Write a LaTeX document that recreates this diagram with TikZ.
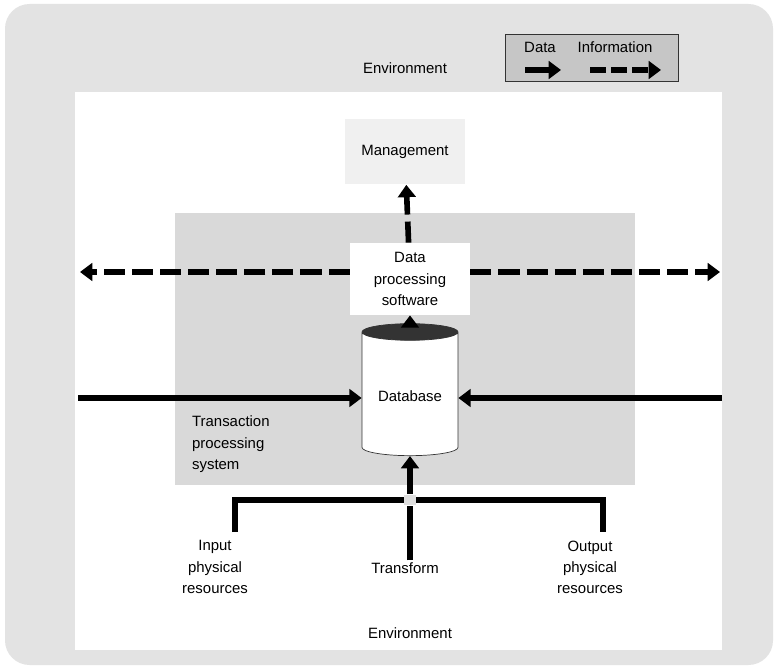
\documentclass[tikz,border=0pt]{standalone}
\usepackage{fontspec}
\setmainfont{Liberation Sans}
\usepackage{tikz}
\usetikzlibrary{positioning, calc, arrows.meta, shapes.geometric}
\tikzset{
    block/.style = {rectangle, align=center, minimum height=1.3cm, minimum width=2.4cm},
    plain/.style = {align=center, inner sep=1pt},
}

\begin{document}
\begin{tikzpicture}[
        x=1cm, y=1cm,
        font=\fontsize{8.5}{12}\selectfont,
        dataline/.style={
            line width=3.2pt,
            black
        },
        dataarrow/.style={
            dataline,
            -{Triangle[length=7pt,width=10pt]}
        },
        infoarrow/.style={
            line width=3.2pt,
            dash pattern=on 12pt off 4pt,
            -{Triangle[length=7pt,width=10pt]}
        },
        database/.style={
            cylinder,
            shape border rotate=90,
            aspect=0.22,
            draw=black!80,
            thin,
            cylinder uses custom fill,
            cylinder body fill=white,
            cylinder end fill=black!80,
            minimum width=1.92cm,
            minimum height=2.64cm
        }
    ]
        % frame and environment
        \useasboundingbox (0,0) rectangle (15.56,13.36);
        \fill[white] (0,0) rectangle (15.56,13.36);
        \fill[gray!22, rounded corners=14pt] (0.1,0.06) rectangle (15.46,13.28);
        \fill[white] (1.5,0.36) rectangle (14.44,11.52);
        \fill[gray!30] (3.5,3.66) rectangle (12.7,9.1);

        \node [plain] (envtop) at (8.1,12.0) {Environment};
        \node [plain] (envbot) at (8.2,0.7) {Environment};

        % legend
        \node [rectangle, draw=black!80, fill=gray!45, minimum width=3.46cm, minimum height=0.94cm] (legend) at (11.83,12.2) {};
        \node [plain] (lgdata) at (10.8,12.42) {Data};
        \node [plain] (lginfo) at (12.3,12.42) {Information};
        \coordinate (lgd1) at (10.5,11.96);
        \coordinate (lgd2) at (11.22,11.96);
        \coordinate (lgi1) at (11.8,11.96);
        \coordinate (lgi2) at (13.22,11.96);
        \draw [dataarrow] (lgd1) -- (lgd2);
        \draw [infoarrow, dash pattern=on 9pt off 3pt] (lgi1) -- (lgi2);

        % main blocks
        \node [block, fill=gray!12] (mgmt) at (8.1,10.32) {Management};
        \node [block, fill=white, minimum height=1.44cm] (dps) at (8.2,7.78) {Data\\processing\\software};
        \node [database] (db) at (8.2,5.44) {Database};
        \node [plain, align=left, anchor=north west] (tps) at (3.8,5.08) {Transaction\\processing\\system};

        \node [plain] (input) at (4.3,2.02) {Input\\physical\\resources};
        \node [plain] (transform) at (8.1,2.0) {Transform};
        \node [plain] (output) at (11.8,2.02) {Output\\physical\\resources};

        % information flows
        \coordinate (infoleft) at (1.6,7.92);
        \coordinate (inforight) at (14.4,7.92);
        \draw [infoarrow] (dps.west |- infoleft) -- (infoleft);
        \draw [infoarrow] (dps.east |- inforight) -- (inforight);
        \draw [infoarrow] (dps) -- (mgmt);

        % data flows
        \coordinate (dataleft) at (1.56,5.4);
        \coordinate (dataright) at (14.44,5.4);
        \draw [dataarrow] (dataleft) -- (db.west |- dataleft);
        \draw [dataarrow] (dataright) -- (db.east |- dataright);
        \draw [dataarrow] (db.top) -- (dps);

        \coordinate (inptop) at (4.7,2.72);
        \coordinate (outtop) at (12.06,2.72);
        \coordinate (bar) at (8.2,3.36);
        \draw [dataline] (inptop) |- (outtop |- bar) -- (outtop);
        \fill [gray!25] ($(bar)+(-0.12,-0.1)$) rectangle ($(bar)+(0.12,0.1)$);
        \draw [dataline] (transform.north -| bar) -- ($(bar)+(0,-0.12)$);
        \draw [dataarrow] ($(bar)+(0,0.12)$) -- (db.bottom);
    \end{tikzpicture}
\end{document}
